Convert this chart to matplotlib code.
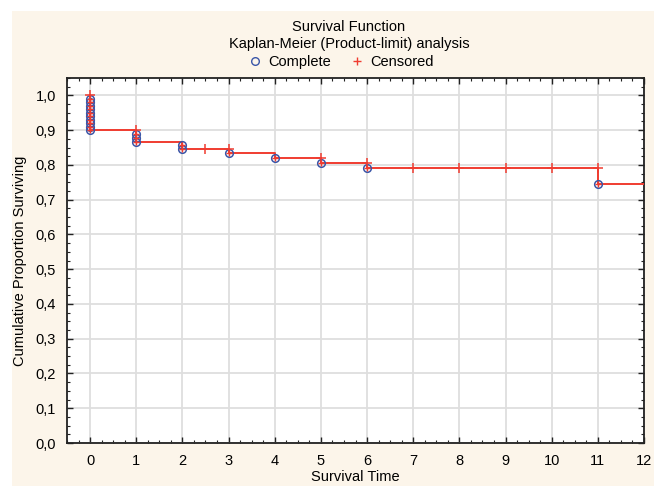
import numpy as np
import matplotlib
matplotlib.use("Agg")
import matplotlib.pyplot as plt
from matplotlib.patches import Rectangle
from matplotlib.ticker import MultipleLocator, FuncFormatter
from matplotlib.lines import Line2D

plt.rcParams['font.family'] = ['Liberation Sans', 'DejaVu Sans']

# Kaplan-Meier step curve
step_t = [0, 0, 1, 2, 3, 4, 5, 6, 11, 12]
step_s = [1.0, 0.90, 0.867, 0.846, 0.835, 0.820, 0.806, 0.791, 0.745, 0.745]

# complete (event) observations
complete_t = [0] * 10 + [1] * 3 + [2] * 2 + [3, 4, 5, 6, 11]
complete_s = [0.99, 0.98, 0.97, 0.96, 0.95, 0.94, 0.93, 0.92, 0.91, 0.90,
              0.889, 0.878, 0.867,
              0.856, 0.846,
              0.835, 0.820, 0.806, 0.791, 0.745]

# censored observations
censored_t = [0, 1, 2.5, 3, 5, 6, 7, 8, 9, 10, 11]
censored_s = [1.0, 0.90, 0.846, 0.846, 0.820, 0.806, 0.791, 0.791, 0.791, 0.791, 0.791]

xticks = list(range(0, 13))

W, H = 654, 486
fig = plt.figure(figsize=(W / 100, H / 100), dpi=100)
fig.patch.set_facecolor('white')
# cream panel behind everything
fig.patches.append(Rectangle((12 / W, 0), 1 - 12 / W, 1 - 11 / H,
                             transform=fig.transFigure, facecolor='#fcf5ea',
                             edgecolor='none', zorder=-10))

ax = fig.add_axes([67 / W, 1 - 443 / H, (644 - 67) / W, (443 - 78) / H])
ax.set_facecolor('white')

red = '#f03c30'
blue = '#3a56a8'

ax.plot(step_t, step_s, drawstyle='steps-post', color=red, lw=1.4, zorder=3)
ax.plot(complete_t, complete_s, linestyle='none', marker='o', ms=5.5,
        mfc='none', mec=blue, mew=1.1, zorder=4)
ax.plot(complete_t, complete_s, linestyle='none', marker='+', ms=5,
        color=red, mew=1.0, zorder=5)
ax.plot(censored_t, censored_s, linestyle='none', marker='+', ms=7,
        color=red, mew=1.1, zorder=5)

ax.set_xlim(-0.5, 12)
ax.set_ylim(0, 1.05)
ax.set_xticks(xticks)
ax.yaxis.set_major_locator(MultipleLocator(0.1))
ax.xaxis.set_minor_locator(MultipleLocator(0.25))
ax.yaxis.set_minor_locator(MultipleLocator(0.025))
ax.yaxis.set_major_formatter(FuncFormatter(lambda v, p: f"{v:.1f}".replace('.', ',')))
ax.grid(True, which='major', color='#dedede', lw=1.3)
ax.set_axisbelow(True)
ax.tick_params(which='both', direction='in', top=True, right=True,
               labelsize=10.5, color='#222222')
ax.tick_params(which='major', length=4, width=1)
ax.tick_params(which='minor', length=2.5, width=0.8)
ax.tick_params(axis='x', pad=8)
ax.tick_params(axis='y', pad=8)
for s in ax.spines.values():
    s.set_color('#222222')
    s.set_linewidth(1.3)

ax.set_xlabel('Survival Time', fontsize=10.5, labelpad=1)
ax.set_ylabel('Cumulative Proportion Surviving', fontsize=10.5, labelpad=6)

fig.text(349 / W, 1 - 27 / H, 'Survival Function', ha='center', va='center', fontsize=10.5)
fig.text(349 / W, 1 - 44 / H, 'Kaplan-Meier (Product-limit) analysis',
         ha='center', va='center', fontsize=10.5)

handles = [Line2D([], [], linestyle='none', marker='o', ms=5.5, mfc='none', mec=blue, mew=1.0),
           Line2D([], [], linestyle='none', marker='+', ms=6, color=red, mew=1.0)]
fig.legend(handles, ['Complete', 'Censored'], loc='center', bbox_to_anchor=(340 / W, 1 - 62 / H),
           ncol=2, frameon=False, fontsize=10.5, handletextpad=0.3, columnspacing=1.2,
           handlelength=1.2, borderpad=0)

fig.savefig('out.png', dpi=100)
